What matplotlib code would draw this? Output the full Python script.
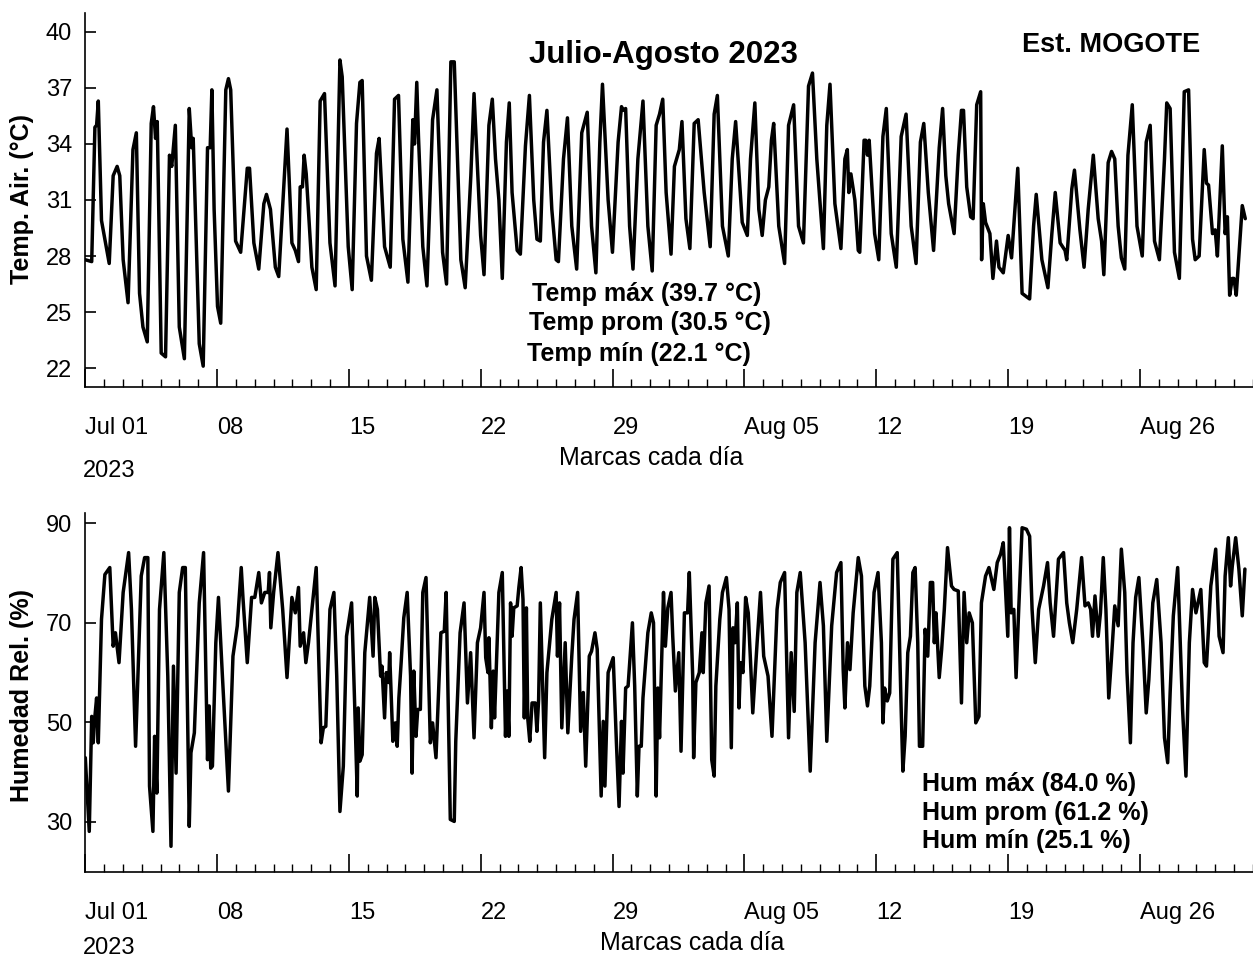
import numpy as np
import matplotlib
matplotlib.use("Agg")
import matplotlib.pyplot as plt
import pandas as pd

plt.rcParams['font.family'] = ['Liberation Sans', 'DejaVu Sans']

start = pd.Timestamp("2023-07-01")

# Air temperature (°C), time in days since Jul 01 00:00
temp_days = [0.0, 0.34, 0.51, 0.60, 0.69, 0.86, 1.27, 1.48, 1.69, 1.83, 2.01, 2.27, 2.53, 2.71, 2.88, 3.06, 3.29,
             3.50, 3.62, 3.73, 3.82, 4.03, 4.26, 4.47, 4.59, 4.78, 4.99, 5.26, 5.52, 5.65, 5.73, 6.05, 6.26,
             6.49, 6.63, 6.72, 6.84, 7.02, 7.19, 7.46, 7.60, 7.72, 7.98, 8.25, 8.60, 8.72, 8.95, 9.21, 9.48,
             9.62, 9.83, 10.09, 10.27, 10.48, 10.71, 10.97, 11.15, 11.32, 11.41, 11.53, 11.62, 11.73, 12.03,
             12.26, 12.47, 12.70, 12.99, 13.26, 13.52, 13.64, 13.96, 14.17, 14.40, 14.58, 14.70, 14.93, 15.19,
             15.46, 15.60, 15.89, 16.19, 16.42, 16.63, 16.86, 17.13, 17.39, 17.48, 17.60, 17.69, 17.92, 18.14,
             18.44, 18.67, 18.97, 19.18, 19.41, 19.59, 19.94, 20.17, 20.47, 20.64, 20.99, 21.17, 21.43, 21.61,
             21.78, 21.96, 22.14, 22.36, 22.51, 22.66, 22.93, 23.10, 23.37, 23.58, 23.81, 23.98, 24.16, 24.33,
             24.51, 24.77, 25.00, 25.12, 25.39, 25.60, 25.83, 26.09, 26.36, 26.65, 26.88, 27.11, 27.32, 27.46,
             27.76, 27.99, 28.29, 28.47, 28.55, 28.69, 28.90, 29.08, 29.34, 29.61, 29.87, 30.10, 30.31, 30.49,
             30.66, 30.84, 31.10, 31.28, 31.54, 31.68, 31.89, 32.10, 32.33, 32.54, 32.86, 33.18, 33.39, 33.56,
             33.83, 34.14, 34.35, 34.53, 34.88, 35.15, 35.32, 35.55, 35.76, 35.94, 36.11, 36.29, 36.43, 36.55,
             36.82, 37.13, 37.34, 37.61, 37.87, 38.13, 38.40, 38.61, 38.84, 39.19, 39.37, 39.54, 39.80, 40.12,
             40.33, 40.46, 40.54, 40.65, 40.86, 41.04, 41.12, 41.35, 41.44, 41.53, 41.62, 41.91, 42.13, 42.35,
             42.53, 42.79, 43.06, 43.32, 43.58, 43.85, 44.11, 44.34, 44.52, 44.76, 45.04, 45.34, 45.52, 45.69,
             45.84, 46.13, 46.35, 46.52, 46.63, 46.80, 47.01, 47.14, 47.33, 47.54, 47.59, 47.68, 47.80, 48.03,
             48.19, 48.38, 48.51, 48.74, 49.00, 49.18, 49.33, 49.51, 49.74, 50.00, 50.14, 50.35, 50.49, 50.79,
             51.11, 51.32, 51.50, 51.76, 52.02, 52.11, 52.38, 52.52, 52.81, 53.03, 53.25, 53.52, 53.78, 53.96,
             54.08, 54.31, 54.49, 54.66, 54.84, 55.01, 55.19, 55.36, 55.59, 55.84, 56.12, 56.33, 56.54, 56.77,
             57.03, 57.30, 57.42, 57.60, 57.83, 58.09, 58.35, 58.58, 58.79, 58.93, 59.14, 59.41, 59.53, 59.64,
             59.85, 59.99, 60.11, 60.37, 60.52, 60.64, 60.76, 60.90, 60.99, 61.11, 61.43, 61.59]
temp_vals = [27.8, 27.7, 34.9, 35.0, 36.3, 29.9, 27.6, 32.3, 32.8, 32.3, 27.8, 25.5, 33.7, 34.6, 26.0, 24.2, 23.4,
             35.1, 36.0, 34.3, 35.2, 22.8, 22.6, 33.4, 32.8, 35.0, 24.2, 22.5, 35.9, 33.8, 34.3, 23.3, 22.1,
             33.8, 33.8, 36.9, 30.5, 25.3, 24.4, 36.9, 37.5, 36.9, 28.8, 28.2, 32.7, 32.7, 28.7, 27.3, 30.8,
             31.3, 30.5, 27.4, 26.9, 30.7, 34.8, 28.7, 28.3, 27.7, 31.7, 31.7, 33.4, 32.4, 27.4,
             26.2, 36.3, 36.7, 28.7, 26.4, 38.5, 37.6, 28.5, 26.2, 35.1, 37.3, 37.4, 28.0, 26.7,
             33.5, 34.3, 28.5, 27.4, 36.4, 36.6, 28.9, 26.6, 35.3, 34.0, 37.3, 34.4, 28.5, 26.4,
             35.3, 36.9, 28.2, 26.5, 38.4, 38.4, 27.8, 26.3, 32.3, 36.7, 29.1, 27.0, 35.0, 36.4,
             33.2, 31.0, 26.8, 34.1, 36.2, 31.4, 28.3, 28.1, 33.9, 36.6, 31.0, 28.9, 28.8, 34.1,
             35.8, 30.5, 27.8, 27.7, 33.2, 35.4, 29.6, 27.3, 34.6, 35.7, 29.6, 27.1, 34.1, 37.2,
             31.0, 28.2, 34.1, 36.0, 35.8, 35.9, 29.6, 27.3, 33.2, 36.3, 29.6, 27.2, 35.0, 35.6,
             36.4, 31.4, 28.1, 32.8, 33.7, 35.2, 30.0, 28.4, 35.1, 35.3, 31.4, 28.5, 35.6, 36.6,
             29.6, 28.0, 33.2, 35.2, 29.8, 29.1, 33.2, 36.2, 30.5, 29.1, 31.0, 31.7, 34.2, 35.1,
             29.6, 27.6, 35.0, 36.1, 29.6, 28.7, 37.1, 37.8, 33.2, 28.4, 35.0, 37.2, 30.8, 28.4,
             33.2, 33.7, 31.4, 32.4, 31.0, 28.3, 28.2, 34.2, 34.2, 33.4, 34.2, 29.2, 27.8, 34.4,
             35.9, 29.2, 27.4, 34.4, 35.6, 29.6, 27.6, 34.1, 35.1, 31.4, 28.3, 33.8, 35.9, 32.3,
             30.8, 29.2, 33.4, 35.8, 35.8, 31.7, 30.1, 30.0, 36.1, 36.8, 27.8, 30.8, 29.8, 29.2,
             26.8, 28.8, 27.4, 27.1, 29.1, 27.9, 30.1, 32.7, 26.0, 25.8, 25.7, 29.6, 31.3, 27.8,
             26.3, 29.2, 31.4, 28.7, 28.3, 27.8, 31.6, 32.6, 29.4, 27.4, 30.5, 33.4, 30.0, 28.8,
             27.0, 33.0, 33.6, 33.2, 29.6, 27.9, 27.3, 33.4, 36.1, 29.6, 28.0, 34.1, 35.0, 28.8,
             27.8, 33.2, 36.2, 35.9, 28.2, 26.8, 36.8, 36.9, 28.9, 27.8, 28.0, 33.7, 31.9, 31.8,
             29.2, 29.4, 28.0, 33.9, 29.2, 30.1, 25.9, 26.8, 26.8, 25.9, 30.7, 30.0]

# Relative humidity (%), time in days since Jul 01 00:00
hum_days = [0.0, 0.21, 0.34, 0.42, 0.51, 0.60, 0.69, 0.86, 1.04, 1.30, 1.48, 1.60, 1.79, 2.01, 2.30, 2.45, 2.67,
            2.97, 3.15, 3.32, 3.41, 3.59, 3.68, 3.80, 3.94, 4.17, 4.38, 4.55, 4.68, 4.82, 4.99, 5.17, 5.31,
            5.52, 5.61, 5.79, 6.05, 6.28, 6.49, 6.58, 6.66, 6.75, 6.93, 7.07, 7.28, 7.60, 7.84, 8.07, 8.28,
            8.37, 8.60, 8.83, 9.00, 9.21, 9.35, 9.53, 9.71, 9.78, 9.85, 10.00, 10.23, 10.48, 10.71, 10.97,
            11.15, 11.32, 11.41, 11.59, 11.71, 11.85, 12.03, 12.26, 12.38, 12.52, 12.64, 12.77, 12.99, 13.20,
            13.35, 13.52, 13.70, 13.87, 14.14, 14.31, 14.44, 14.49, 14.58, 14.70, 14.84, 15.10, 15.28, 15.37,
            15.51, 15.68, 15.75, 15.89, 15.98, 16.11, 16.16, 16.33, 16.46, 16.56, 16.65, 16.77, 16.91, 17.09,
            17.27, 17.35, 17.44, 17.56, 17.65, 17.79, 17.92, 18.09, 18.32, 18.44, 18.62, 18.88, 19.06, 19.16,
            19.38, 19.59, 19.67, 19.90, 20.11, 20.29, 20.46, 20.64, 20.82, 20.99, 21.17, 21.26, 21.38, 21.43,
            21.56, 21.66, 21.73, 21.96, 22.14, 22.31, 22.40, 22.49, 22.58, 22.66, 22.75, 22.93, 23.02, 23.14,
            23.24, 23.31, 23.42, 23.49, 23.60, 23.72, 23.89, 23.98, 24.07, 24.16, 24.39, 24.51, 24.77, 25.00,
            25.07, 25.18, 25.30, 25.48, 25.62, 25.83, 25.95, 26.14, 26.30, 26.44, 26.57, 26.76, 26.88, 27.06,
            27.18, 27.39, 27.50, 27.59, 27.76, 28.03, 28.20, 28.34, 28.47, 28.55, 28.69, 28.82, 29.05, 29.17,
            29.31, 29.40, 29.52, 29.61, 29.87, 30.05, 30.17, 30.31, 30.40, 30.49, 30.70, 30.80, 30.93, 31.10,
            31.19, 31.33, 31.51, 31.63, 31.81, 31.98, 32.07, 32.25, 32.30, 32.42, 32.60, 32.74, 32.81, 32.95,
            33.12, 33.26, 33.39, 33.48, 33.69, 33.83, 34.04, 34.18, 34.30, 34.39, 34.50, 34.62, 34.71, 34.79,
            34.92, 35.06, 35.20, 35.32, 35.44, 35.67, 35.85, 36.02, 36.25, 36.46, 36.73, 36.90, 37.13, 37.34,
            37.48, 37.64, 37.78, 37.96, 38.22, 38.49, 38.75, 39.01, 39.19, 39.37, 39.63, 39.89, 40.12, 40.24,
            40.33, 40.47, 40.60, 40.77, 41.04, 41.21, 41.39, 41.53, 41.65, 41.88, 42.09, 42.27, 42.35, 42.44,
            42.58, 42.71, 42.88, 43.11, 43.32, 43.41, 43.53, 43.67, 43.81, 43.94, 44.06, 44.20, 44.29, 44.46,
            44.59, 44.73, 44.87, 44.99, 45.08, 45.17, 45.34, 45.47, 45.61, 45.78, 45.99, 46.13, 46.35, 46.52,
            46.66, 46.80, 46.93, 47.10, 47.28, 47.45, 47.58, 47.80, 47.98, 48.24, 48.42, 48.60, 48.74, 48.98,
            49.07, 49.16, 49.30, 49.42, 49.56, 49.74, 49.97, 50.14, 50.27, 50.44, 50.62, 50.88, 51.09, 51.23,
            51.41, 51.67, 51.94, 52.11, 52.25, 52.43, 52.64, 52.90, 53.08, 53.25, 53.38, 53.48, 53.61, 53.78,
            53.90, 54.05, 54.19, 54.34, 54.48, 54.66, 54.84, 55.01, 55.19, 55.31, 55.49, 55.63, 55.77, 55.94,
            56.15, 56.33, 56.47, 56.68, 56.89, 57.12, 57.30, 57.47, 57.60, 57.77, 58.00, 58.26, 58.44, 58.62,
            58.79, 58.97, 59.23, 59.41, 59.53, 59.76, 60.02, 60.20, 60.41, 60.52, 60.69, 60.81, 60.90, 61.08,
            61.25, 61.43, 61.57]
hum_vals = [42.9, 28.1, 51.2, 45.9, 51.2, 54.9, 45.9, 70.7, 79.7, 81.1, 65.3, 68.0, 62.0, 76.1, 84.1, 72.7, 45.2,
            79.4, 83.1, 83.1, 37.2, 28.1, 47.2, 35.8, 72.7, 84.1, 59.3, 25.1, 61.3, 39.8, 76.1, 81.1, 81.1,
            29.1, 43.9, 47.9, 74.0, 84.1, 42.5, 53.3, 40.8, 41.2, 66.0, 75.1, 59.3, 36.2, 63.3, 69.4, 81.1,
            75.1, 62.0, 75.1, 75.1, 80.1, 74.0, 76.1, 76.1, 80.1, 69.0, 76.1, 84.1, 72.7, 59.0, 75.1,
            72.0, 77.1, 65.3, 68.0, 62.0, 66.0, 72.7, 81.1, 64.7, 45.9, 48.9, 49.2, 72.7, 76.1,
            59.3, 32.1, 41.2, 67.3, 74.0, 52.6, 35.2, 52.9, 42.2, 43.5, 64.0, 75.1, 63.3, 75.1,
            72.7, 59.3, 61.3, 50.9, 60.0, 58.0, 64.0, 46.2, 49.9, 45.2, 54.9, 62.0, 71.0, 76.1,
            59.3, 39.8, 60.3, 47.2, 52.6, 52.6, 76.1, 79.1, 45.9, 49.9, 42.9, 68.0, 68.3, 76.1,
            30.5, 30.1, 46.2, 68.0, 74.0, 53.9, 64.0, 46.9, 66.0, 69.0, 76.1, 63.0, 60.0, 67.0,
            48.9, 60.3, 50.9, 76.1, 80.1, 47.2, 56.3, 47.2, 74.0, 67.3, 73.0, 73.4, 77.1, 81.1,
            74.7, 50.9, 73.0, 50.9, 46.2, 53.9, 53.9, 48.2, 54.6, 74.0, 42.9, 60.0, 70.7, 76.1,
            63.3, 74.0, 48.9, 66.0, 47.9, 63.3, 70.7, 76.1, 48.2, 56.0, 41.2, 63.3, 64.3, 68.0,
            64.7, 35.2, 50.2, 37.2, 60.0, 63.0, 45.9, 33.1, 50.2, 39.8, 56.9, 57.3, 70.0, 57.3,
            35.2, 45.2, 45.2, 54.9, 68.0, 72.0, 70.0, 35.2, 56.9, 46.9, 76.1, 65.3, 73.0, 76.1,
            67.3, 56.3, 64.0, 44.2, 72.0, 72.0, 80.1, 59.3, 42.9, 58.0, 60.0, 68.0, 60.0, 74.0,
            77.4, 42.5, 39.2, 57.3, 70.7, 76.1, 79.1, 72.7, 44.9, 69.0, 66.0, 74.0, 52.9, 62.0,
            60.0, 75.1, 72.0, 62.3, 51.9, 66.0, 76.1, 63.3, 59.3, 47.2, 72.7, 78.1, 80.1, 46.9,
            64.0, 52.2, 76.1, 80.1, 66.0, 40.2, 66.0, 78.1, 69.4, 46.2, 69.4, 80.1, 82.1, 60.6,
            52.9, 66.0, 60.6, 72.0, 83.1, 79.4, 57.3, 53.3, 57.3, 76.1, 80.1, 66.0, 49.9, 56.9,
            54.3, 55.9, 82.8, 84.1, 52.6, 40.2, 47.2, 64.0, 67.3, 80.1, 81.1, 66.0, 45.2, 45.2,
            68.7, 63.3, 78.1, 78.1, 66.0, 72.0, 59.0, 64.7, 72.7, 85.1, 77.4, 76.7, 76.4, 53.9,
            76.1, 66.0, 72.0, 70.0, 49.9, 51.2, 74.0, 79.4, 81.1, 76.7, 82.1, 83.8, 86.1, 67.3,
            89.1, 72.0, 72.7, 59.0, 72.7, 89.1, 88.8, 87.4, 72.7, 62.0, 72.7, 77.4, 82.1, 74.0,
            67.3, 82.8, 84.1, 74.0, 70.0, 66.0, 72.7, 83.1, 73.4, 74.0, 72.7, 67.3, 75.4, 67.3,
            72.0, 83.1, 72.7, 54.9, 62.6, 73.4, 69.4, 84.8, 76.1, 60.0, 45.9, 66.0, 75.1, 79.1,
            66.0, 51.9, 58.6, 74.0, 78.7, 66.0, 46.9, 41.9, 55.9, 71.4, 81.1, 52.6, 39.2, 66.0,
            76.7, 72.0, 76.7, 62.0, 61.3, 77.4, 84.8, 67.3, 64.0, 79.4, 87.1, 77.4, 81.4, 87.1,
            80.8, 71.4, 80.8]

tick_labels = ["Jul 01", "08", "15", "22", "29", "Aug 05", "12", "19", "Aug 26"]
temp_stats = [("Temp máx", "39.7 °C"), ("Temp prom", "30.5 °C"), ("Temp mín", "22.1 °C")]
hum_stats = [("Hum máx", "84.0 %"), ("Hum prom", "61.2 %"), ("Hum mín", "25.1 %")]

W, H = 1253, 959
fig = plt.figure(figsize=(W / 100, H / 100), dpi=100)


def px(x, y):
    # pixel position -> figure fraction
    return x / W, 1 - y / H


def to_time(days):
    return start + pd.to_timedelta(np.asarray(days), unit="D")


major = pd.date_range(start, periods=len(tick_labels), freq="7D")
minor = pd.date_range(start, start + pd.Timedelta(days=62), freq="D")
x_end = start + pd.Timedelta(days=61.6)


def style_axis(ax, ylim, yticks):
    ax.set_xlim(start, x_end)
    ax.set_ylim(*ylim)
    ax.set_yticks(yticks)
    ax.set_xticks(major)
    ax.set_xticklabels(tick_labels, ha="left")
    ax.set_xticks(minor, minor=True)
    for side in ["top", "right"]:
        ax.spines[side].set_visible(False)
    for side in ["left", "bottom"]:
        ax.spines[side].set_linewidth(1.2)
    ax.tick_params(axis="x", which="major", direction="in", length=13, width=1.2, pad=21.5, labelsize=17)
    ax.tick_params(axis="x", which="minor", direction="in", length=5.5, width=1.0)
    ax.tick_params(axis="y", direction="in", length=8, width=1.2, pad=9.5, labelsize=17)


line_kw = dict(color="black", lw=2.5, solid_joinstyle="round", solid_capstyle="round")

# temperature panel
ax1 = fig.add_axes([85.3 / W, 1 - 386.7 / H, (W - 85.3) / W, 373.4 / H])
ax1.plot(to_time(temp_days), temp_vals, **line_kw)
style_axis(ax1, (21, 41), np.arange(22, 41, 3))

# humidity panel
ax2 = fig.add_axes([85.3 / W, 1 - 871.7 / H, (W - 85.3) / W, 358.4 / H])
ax2.plot(to_time(hum_days), hum_vals, **line_kw)
style_axis(ax2, (20, 92), [30, 50, 70, 90])

fig.text(*px(22, 199), "Temp. Air. (°C)", rotation=90, ha="center", va="center",
         fontsize=18, fontweight="bold")
fig.text(*px(22, 695), "Humedad Rel. (%)", rotation=90, ha="center", va="center",
         fontsize=18, fontweight="bold")

fig.text(*px(663, 63.5), "Julio-Agosto 2023", ha="center", va="baseline", fontsize=22.5, fontweight="bold")
fig.text(*px(1022, 51.7), "Est. MOGOTE", ha="left", va="baseline", fontsize=19.5, fontweight="bold")

for (name, val), (x, y) in zip(temp_stats, [(532, 301), (529, 330), (527, 361)]):
    fig.text(*px(x, y), f"{name} ({val})", ha="left", va="baseline", fontsize=18, fontweight="bold")
for (name, val), y in zip(hum_stats, [791, 820, 848]):
    fig.text(*px(922, y), f"{name} ({val})", ha="left", va="baseline", fontsize=18, fontweight="bold")

fig.text(*px(83, 477), "2023", ha="left", va="baseline", fontsize=17)
fig.text(*px(83, 954), "2023", ha="left", va="baseline", fontsize=17)
fig.text(*px(651, 465), "Marcas cada día", ha="center", va="baseline", fontsize=18)
fig.text(*px(692, 950), "Marcas cada día", ha="center", va="baseline", fontsize=18)

fig.savefig("out.png", dpi=100)
